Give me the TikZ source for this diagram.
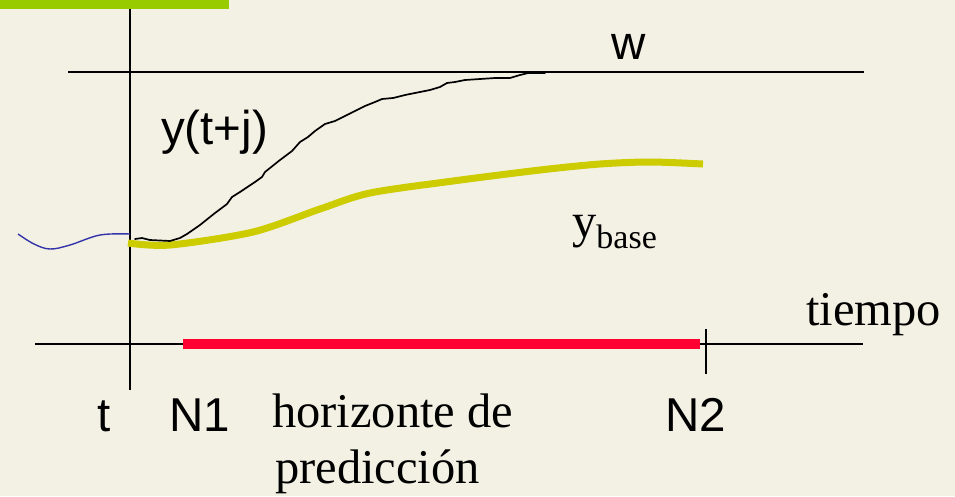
\documentclass[tikz,border=0pt]{standalone}
\usepackage{fontspec}
\setmainfont{Liberation Serif}
\newfontfamily\arialfont{Liberation Sans}
\definecolor{bgcream}{RGB}{243,241,228}
\definecolor{bargreen}{RGB}{153,204,0}
\definecolor{ybasecol}{RGB}{204,204,0}
\definecolor{redbar}{RGB}{255,0,51}
\definecolor{wavecol}{RGB}{51,51,170}
\begin{document}
\begin{tikzpicture}[x=1pt,y=-1pt,
  axisline/.style={line width=2.5pt, black},
  sanslabel/.style={font=\arialfont\fontsize{47.5}{54}\selectfont, inner sep=0pt, anchor=base west},
  seriflabel/.style={font=\fontsize{48.5}{56}\selectfont, inner sep=0pt, anchor=base west},
  predcurve/.style={line width=1.7pt, black, line join=round, line cap=round},
  basecurve/.style={line width=7pt, ybasecol},
  pastcurve/.style={line width=1.4pt, wavecol},
  horizon/.style={line width=10pt, redbar}]
\fill[bgcream] (0,0) rectangle (955,496);
\useasboundingbox (0,0) rectangle (955,496);
% green title bar
\fill[bargreen] (0,0) rectangle (229,9);
% axes
\coordinate (vtop) at (130,9);
\coordinate (vbot) at (130,390);
\coordinate (wL) at (68,72);
\coordinate (wR) at (864,72);
\coordinate (tL) at (35,344);
\coordinate (tR) at (863,344);
\coordinate (hN1) at (183,344);
\coordinate (hN2) at (700,344);
\coordinate (tickT) at (706,329);
\coordinate (tickB) at (706,374);
\draw[axisline] (vtop) -- (vbot);
\draw[axisline] (wL) -- (wR);
\draw[axisline] (tL) -- (tR);
\draw[axisline] (tickT) -- (tickB);
\draw[horizon] (hN1) -- (hN2);
% past output
\draw[pastcurve] plot[smooth, tension=0.6] coordinates {(18,234) (34,244) (50,249) (70,245) (100,235) (130,234)};
% base response
\draw[basecurve] plot[smooth, tension=0.5] coordinates {(128,243) (170,245) (253,232) (320,209) (370,193) (453,181) (540,170) (600,164) (650,162) (703,164)};
% predicted output
\draw[predcurve] plot coordinates {(135,239) (142,238) (150,240) (170,241) (180,238) (187,234) (200,225) (215,213) (227,204) (232,197) (240,192) (255,182) (262,177) (265,172) (280,160) (292,151) (300,142) (308,137) (315,131) (325,124) (335,121) (345,116) (355,111) (365,106) (375,102) (382,99) (393,98) (405,95) (415,93) (430,90) (440,87) (447,83) (455,82) (465,80) (480,79) (495,78) (510,78) (520,75) (528,73) (545,73)};
% labels
\node[sanslabel] (lw) at (611,59) {w};
\node[sanslabel] (ly) at (161,144) {y(t+j)};
\node[seriflabel] (lbase) at (572,237) {y\raisebox{-11pt}{\fontsize{34}{38}\selectfont base}};
\node[seriflabel] (ltiempo) at (806,325) {tiempo};
\node[sanslabel] (lt) at (97,431) {t};
\node[sanslabel] (lN1) at (169,431) {N1};
\node[sanslabel] (lN2) at (665,431) {N2};
\node[seriflabel] (lhor) at (272,427) {horizonte de};
\node[seriflabel] (lpred) at (275,483) {predicción};
\end{tikzpicture}
\end{document}
